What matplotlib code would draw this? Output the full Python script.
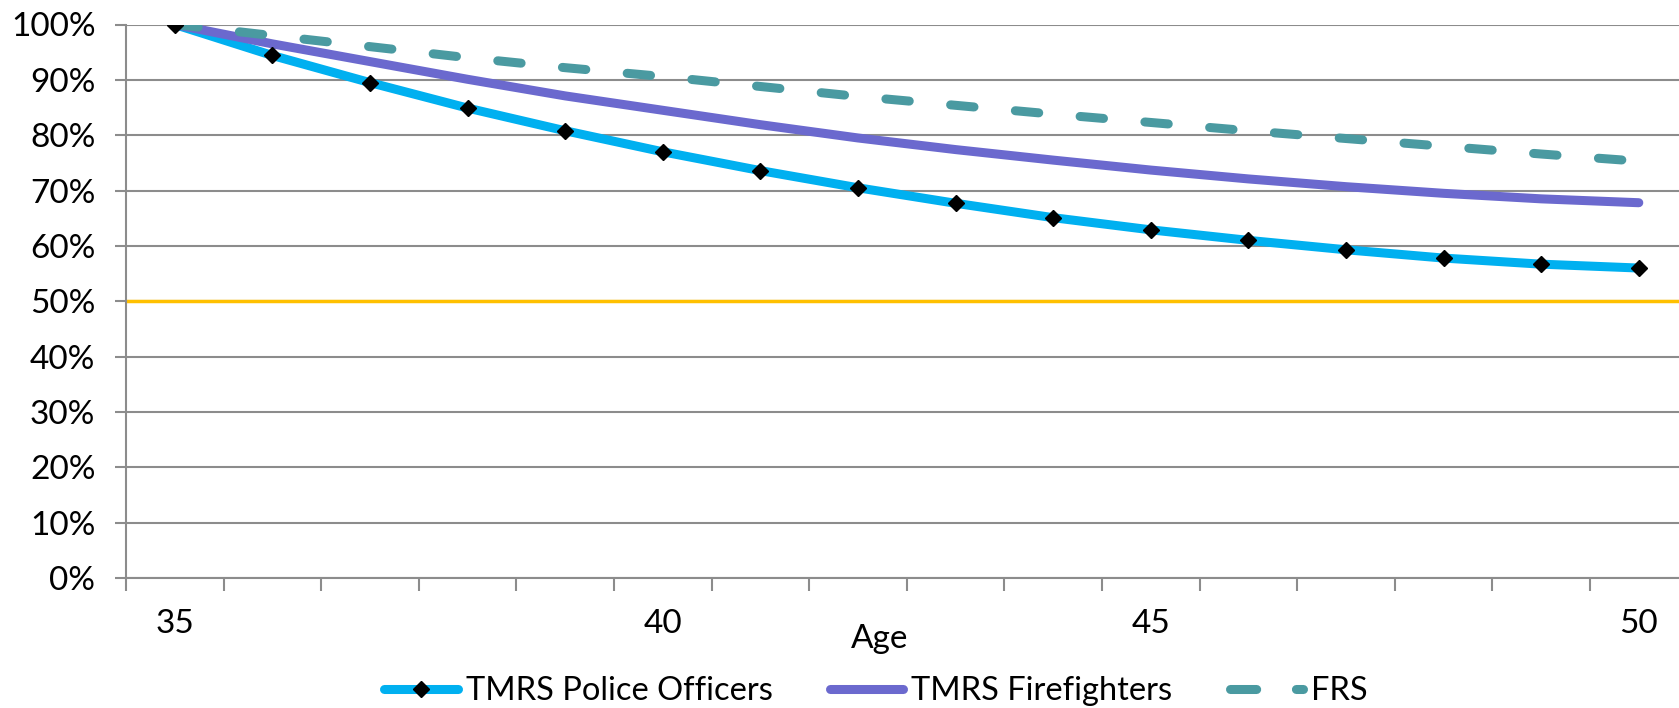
import matplotlib
matplotlib.use("Agg")
import matplotlib.pyplot as plt
from matplotlib.lines import Line2D
from matplotlib.ticker import FuncFormatter

# share of members still in service, by age (%)
ages = list(range(35, 51))
police = [100, 94.4, 89.5, 84.9, 80.8, 77.0, 73.6, 70.5, 67.7, 65.1, 62.9, 61.0, 59.3, 57.8, 56.7, 56.0]
firefighters = [100, 96.5, 93.3, 90.1, 87.1, 84.5, 81.9, 79.5, 77.4, 75.5, 73.7, 72.1, 70.7, 69.5, 68.5, 67.8]
frs = [100, 98.0, 96.0, 94.0, 92.2, 90.6, 88.8, 87.0, 85.4, 83.8, 82.3, 80.8, 79.4, 78.0, 76.6, 75.3]
threshold = 50
y_ticks = list(range(0, 101, 10))
labelled_ages = [35, 40, 45, 50]
series_names = ["TMRS Police Officers", "TMRS Firefighters", "FRS"]

CYAN = "#00B0F0"
PURPLE = "#6B69CE"
TEAL = "#4A9AA1"
GOLD = "#FFC000"
GRID = "#8C8C8C"
LW = 6.5

plt.rcParams["font.family"] = ["Lato", "DejaVu Sans"]
plt.rcParams["font.size"] = 24

fig = plt.figure(figsize=(16.79, 7.08), dpi=100)
W, H = 1679, 708
# plot area runs a little past the right edge of the canvas
ax = fig.add_axes([126 / W, 1 - 578 / H, 1561.6 / W, (578 - 24.5) / H])

x = list(range(len(ages)))
ax.axhline(threshold, color=GOLD, lw=2.5, zorder=2)
ax.plot(x, police, color=CYAN, lw=LW, solid_capstyle="round", zorder=3)
ax.plot(x, firefighters, color=PURPLE, lw=LW, solid_capstyle="round", zorder=4)
ax.plot(x, frs, color=TEAL, lw=LW, dashes=(2.6, 4.6), dash_capstyle="round", zorder=5)
ax.plot(x, police, ls="none", marker="D", ms=8.5, color="black", zorder=6)

ax.set_xlim(-0.5, len(ages) - 0.5)
ax.set_ylim(0, 100)

# category boundaries carry the tick marks, labels sit on every fifth age
ax.set_xticks([i - 0.5 for i in range(len(ages) + 1)])
ax.set_xticklabels([])
ax.set_xticks([ages.index(a) for a in labelled_ages], minor=True)
ax.set_xticklabels([str(a) for a in labelled_ages], minor=True)
ax.tick_params(axis="x", which="major", length=9, width=1.5, color=GRID, direction="out")
ax.tick_params(axis="x", which="minor", length=0, pad=22.5)

ax.set_yticks(y_ticks)
ax.yaxis.set_major_formatter(FuncFormatter(lambda v, _: f"{v:.0f}%"))
ax.tick_params(axis="y", length=8, width=1.5, color=GRID, pad=14)

ax.grid(axis="y", color=GRID, lw=1.5, zorder=1)
ax.set_axisbelow(True)
for side in ["top", "right"]:
    ax.spines[side].set_visible(False)
for side in ["left", "bottom"]:
    ax.spines[side].set_color(GRID)
    ax.spines[side].set_linewidth(1.5)

fig.text(880 / W, 1 - 639 / H, "Age", ha="center", va="center")

handles = [
    Line2D([], [], color=CYAN, lw=LW, solid_capstyle="round", marker="D", ms=8.5,
           mfc="black", mec="black"),
    Line2D([], [], color=PURPLE, lw=LW, solid_capstyle="round"),
    Line2D([], [], color=TEAL, lw=LW, dashes=(2.9, 4.4), dash_capstyle="round"),
]
fig.legend(handles, series_names, loc="center", bbox_to_anchor=(876 / W, 1 - 691 / H),
           ncol=3, frameon=False, fontsize=23.5, handlelength=2.25, handletextpad=0.25,
           columnspacing=1.75, borderaxespad=0, borderpad=0)

fig.savefig("out.png", dpi=100)
